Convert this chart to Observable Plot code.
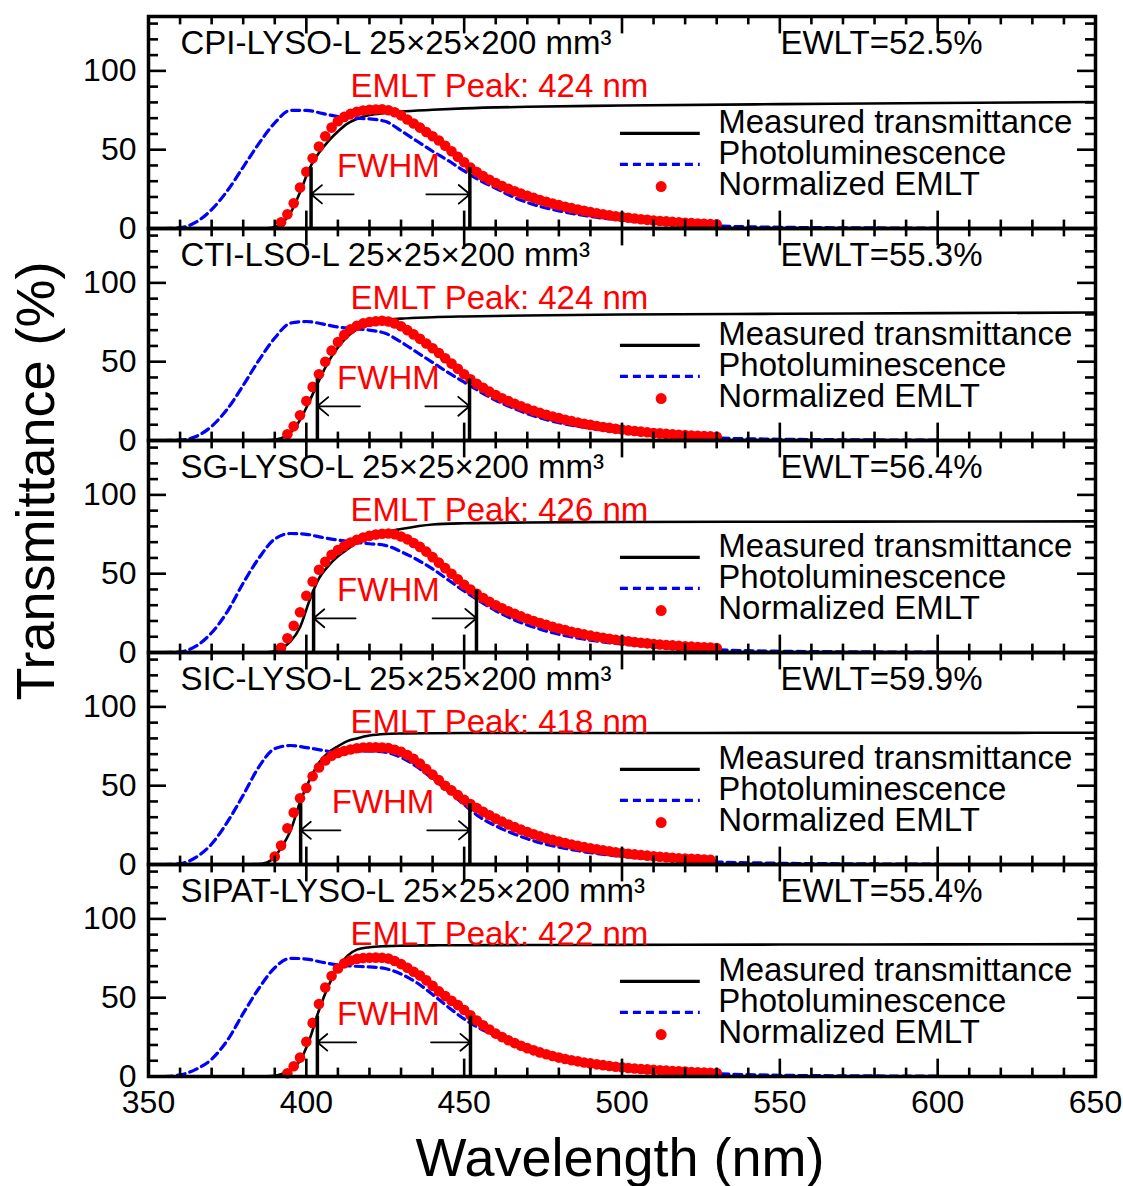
<!DOCTYPE html>
<html><head><meta charset="utf-8">
<script src="https://cdn.jsdelivr.net/npm/d3@7"></script>
<script src="https://cdn.jsdelivr.net/npm/@observablehq/plot@0.6"></script>
<style>
body{margin:0;background:#fff;}
#wrap{position:relative;width:1123px;height:1186px;font-family:"Liberation Sans",Arial,sans-serif;color:#000;}
.ttl{position:absolute;line-height:1;white-space:nowrap;font-size:54px;}
</style></head><body><div id="wrap"></div>
<script>
// ---------------- DATA ----------------
const panelNames = ["CPI", "CTI", "SG", "SIC", "SIPAT"];
const titles = ["CPI-LYSO-L 25×25×200 mm³", "CTI-LSO-L 25×25×200 mm³", "SG-LYSO-L 25×25×200 mm³", "SIC-LYSO-L 25×25×200 mm³", "SIPAT-LYSO-L 25×25×200 mm³"];
const ewltLabels = ["EWLT=52.5%", "EWLT=55.3%", "EWLT=56.4%", "EWLT=59.9%", "EWLT=55.4%"];
const peakNm = [424, 424, 426, 418, 422];

const plWavelength = [355,360,365,370,375,380,385,390,395,400,405,410,415,420,425,430,435,440,445,450,455,460,465,470,475,480,490,500,510,520,530,550,575,600];
const plCPI   = [0,0.5,4,12,24,39,54,67,75,75,73,71,70,69.5,68,62,55.5,49,43,36.5,30.5,25.5,20.5,16.5,13.5,11.2,7.6,5.3,3.7,2.5,1.6,0.8,0.4,0.2];
const plCTI   = [0,0.3,2.5,9,20,35,51,65,74.5,75.5,74,72,71,70,68,62.5,56,49.5,43,37,31,25.5,21,17,13.8,11.3,7.7,5.3,3.7,2.5,1.6,0.8,0.4,0.2];
const plSG    = [0,0.4,4,12.5,26,44,60,72,75.5,75,73,71.3,70,69,68,64,59,53,46,39,32.5,26.5,21.5,17.5,14.2,11.6,7.8,5.4,3.8,2.6,1.7,0.8,0.4,0.2];
const plSIC   = [0,0.5,4.5,13,27,44,62,73.5,75.5,74.2,72.5,71.1,71.8,72,71.2,68,62,54.5,46.5,38,30,24.5,20,16.3,13.3,11,7.5,5.2,3.6,2.4,1.6,0.8,0.4,0.2];
const plSIPAT = [0,1,4.5,11,23,40,56,69,75,74.5,72.5,70.8,70,69.5,68.5,65,59.5,52,44,36.5,30.5,26,22,18.5,15.5,12.8,8.5,5.7,3.9,2.6,1.7,0.8,0.4,0.2];

const tWavelength = [350,380,386,389,392,395,398,401,404,407,410,413,416,420,425,430,440,450,470,500,550,600,650];
const tCPI   = [0,0,0,0.5,3,10,23,38,48,55.5,61.5,66.5,69.5,72,73.3,74.2,75.3,76.2,77.2,78,78.9,79.6,80.3];
const tCTI   = [0,0,0,0.3,1.5,5,13,25,38,50,59,66,70.5,74,76.3,77.3,78.2,78.7,79.3,79.9,80.4,80.8,81.2];
const tSG    = [0,0,0,0.5,2.5,7,16,33,47,55,61,65.5,69.5,73,76.3,78.3,81.2,82,82.5,82.8,83,83.1,83.2];
const tSIC   = [0,0,0.5,3,10.5,21.5,39.5,53.5,64.5,71,75,78.3,80,81.8,82.8,83.1,83.3,83.4,83.4,83.4,83.5,83.5,83.6];
const tSIPAT = [0,0,0,0.3,1.5,4,10,23.5,42,57.5,69,76.5,80.5,82,82.7,83,83.2,83.3,83.4,83.5,83.7,83.8,84];

const emltWavelength = [388,390,392,394,396,398,400,402,404,406,
  408,410,412,414,416,418,420,422,424,426,
  428,430,432,434,436,438,440,442,444,446,
  448,450,452,454,456,458,460,462,464,466,
  468,470,472,474,476,478,480,482,484,486,
  488,490,492,494,496,498,500,502,504,506,
  508,510,512,514,516,518,520,522,524,526,
  528,530];
const emltCPI = [null,null,4,9,16,26,36,44.5,52,58.5,
  64,68,70.8,72.7,74,74.9,75.3,75.5,75.6,75,
  73.8,71.8,69.2,66.6,64,61.2,58.5,55.8,52.5,49,
  45.5,42,38.6,35.8,33.2,30.9,28.8,26.9,25.2,23.6,
  22.1,20.7,19.4,18.1,16.9,15.8,14.8,13.8,12.9,12,
  11.2,10.4,9.7,9.0,8.4,7.8,7.3,6.8,6.3,5.9,
  5.5,5.1,4.8,4.5,4.2,3.9,3.6,3.4,3.2,3.0,
  2.8,2.6];
const emltCTI = [null,null,null,4,9,16,25,34,42,50,
  57,62.5,67,70.5,72.8,74.3,75.2,75.7,76,75.5,
  74.3,72.5,70,67.3,64.5,61.5,58.5,55.5,52.2,48.8,
  45.5,42,38.8,36,33.4,31,28.8,26.8,25,23.3,
  21.7,20.2,18.8,17.5,16.3,15.2,14.2,13.2,12.3,11.4,
  10.6,9.9,9.2,8.6,8.0,7.4,6.9,6.4,6.0,5.6,
  5.2,4.8,4.5,4.2,3.9,3.6,3.4,3.2,3.0,2.8,
  2.6,2.4];
const emltSG = [null,null,3,9,17,25.5,36,45,52.5,57.5,
  62,65,67.5,69.8,71.5,73,74,74.8,75.3,75.5,
  75,73.6,71.8,69.5,67,64,60.5,57,53.5,50,
  46.5,43,40,37.2,34.6,32.2,30,28,26.2,24.5,
  22.9,21.4,20,18.7,17.5,16.3,15.2,14.2,13.2,12.3,
  11.5,10.7,10,9.3,8.7,8.1,7.6,7.1,6.6,6.2,
  5.8,5.4,5.1,4.8,4.5,4.2,3.9,3.7,3.5,3.3,
  3.1,2.9];
const emltSIC = [null,5,12,23,33,42,48.5,56,61.5,66,
  69,70.8,72,73,73.8,74.2,74.3,74.3,74.2,73.9,
  72.8,71.5,69.5,67,64,60.5,57,53.5,50,47,
  44,41,38.4,35.8,33.4,31.2,29.1,27.2,25.4,23.7,
  22.1,20.6,19.2,17.9,16.7,15.6,14.6,13.6,12.7,11.8,
  11,10.3,9.6,9,8.4,7.8,7.3,6.8,6.4,6,
  5.6,5.2,4.9,4.6,4.3,4,3.8,3.6,3.4,3.2,
  3.0,null];
const emltSIPAT = [null,null,null,2,6.5,12,22,34,46,56.5,
  63.8,68.5,71.8,73.6,74.6,75.1,75.3,75.4,75.3,74.8,
  73.3,71.3,69,66.5,64,61,57.5,54,51,48,
  45.3,42.2,38.8,35.5,32.5,29.8,27.2,25,23,21.2,
  19.5,18,16.6,15.3,14.1,13,12,11.1,10.3,9.6,
  8.9,8.3,7.7,7.2,6.7,6.2,5.8,5.4,5.1,4.8,
  4.5,4.2,3.9,3.7,3.5,3.3,3.1,2.9,2.7,2.5,
  2.4,2.2];

// FWHM markers (nm, %)
const fwhmLeft   = [401.5, 403.5, 402.3, 398.2, 403.5];
const fwhmRight  = [451.8, 451.7, 453.9, 451.8, 452.0];
const fwhmHeight = [38.6, 39.0, 39.6, 38.6, 38.2];
const arrowLeftEnd    = [415.0, 417.0, 415.6, 410.8, 415.8];
const arrowRightStart = [438.0, 437.7, 440.0, 438.3, 439.5];

const legendLabels = ["Measured transmittance", "Photoluminescence", "Normalized EMLT"];

const xTicksMajor = [350,400,450,500,550,600,650];
const xTicksMinor = [360,370,380,390,410,420,430,440,460,470,480,490,510,520,530,540,560,570,580,590,610,620,630,640];
const yTicksMajor = [0,50,100];
const yTicksMinor = [10,20,30,40,60,70,80,90,110,120,130];

// ---------------- BUILD ----------------
const plAll = [plCPI, plCTI, plSG, plSIC, plSIPAT];
const tAll = [tCPI, tCTI, tSG, tSIC, tSIPAT];
const emltAll = [emltCPI, emltCTI, emltSG, emltSIC, emltSIPAT];

const toRows = (wls, vals, panel) => wls.map((wl, i) => ({panel, wl, v: vals[i]})).filter(d => d.v != null);
const plRows = panelNames.flatMap((p, i) => toRows(plWavelength, plAll[i], p));
const tRows = panelNames.flatMap((p, i) => toRows(tWavelength, tAll[i], p));
const emltRows = panelNames.flatMap((p, i) => toRows(emltWavelength, emltAll[i], p));
const panelRows = panelNames.map((p, i) => ({
  panel: p, title: titles[i], ewlt: ewltLabels[i], peak: `EMLT Peak: ${peakNm[i]} nm`,
  left: fwhmLeft[i], right: fwhmRight[i], h: fwhmHeight[i],
  le: arrowLeftEnd[i], rs: arrowRightStart[i]
}));

const W = 1123, H = 1186;
const M = {top: 14, right: 28, bottom: 109, left: 148};
const innerW = W - M.left - M.right;
const facetH = (H - M.top - M.bottom) / panelNames.length;
const FONT = "'Liberation Sans', Arial, sans-serif";
const BLUE = "#0000ff", RED = "#ff0000";
const DASH = "8,5";
const FS = 33;

// layout constants (in data units)
const TEXT_Y = 117.2, PEAK_Y = 90.3, FWHM_Y = 39.6, ARROW_Y = 21.7;
const legTextY = [67.5, 47.6, 28.0];
const legLineY = [60.3, 40.7];
const LEG_X1 = 499.5, LEG_X2 = 524.8, LEG_DOT_X = 512.4, LEG_DOT_Y = 26.6, LEG_TEXT_X = 530.5;

const chart = Plot.plot({
  width: W, height: H,
  marginTop: M.top, marginRight: M.right, marginBottom: M.bottom, marginLeft: M.left,
  x: {domain: [350, 650]},
  y: {domain: [0, 134.5]},
  fy: {domain: panelNames, padding: 0, axis: null},
  style: {fontFamily: FONT, background: "white", color: "black"},
  marks: [
    // curves
    Plot.line(tRows, {fy: "panel", x: "wl", y: "v", stroke: "black", strokeWidth: 2.6, curve: "monotone-x"}),
    Plot.line(plRows, {fy: "panel", x: "wl", y: "v", stroke: BLUE, strokeWidth: 3.2, strokeDasharray: DASH, curve: "monotone-x"}),
    Plot.dot(emltRows, {fy: "panel", x: "wl", y: "v", r: 5.3, fill: RED, stroke: "none"}),
    // FWHM markers
    Plot.ruleX(panelRows, {fy: "panel", x: "left", y1: () => 0, y2: "h", stroke: "black", strokeWidth: 3.5}),
    Plot.ruleX(panelRows, {fy: "panel", x: "right", y1: () => 0, y2: "h", stroke: "black", strokeWidth: 3.5}),
    Plot.arrow(panelRows, {fy: "panel", x1: "le", x2: "left", y1: () => ARROW_Y, y2: () => ARROW_Y, stroke: "black", strokeWidth: 1.8, headLength: 15, headAngle: 80}),
    Plot.arrow(panelRows, {fy: "panel", x1: "rs", x2: "right", y1: () => ARROW_Y, y2: () => ARROW_Y, stroke: "black", strokeWidth: 1.8, headLength: 15, headAngle: 80}),
    Plot.text(panelRows, {fy: "panel", x: (d) => d.panel === "SIC" ? 424.3 : 426, y: () => FWHM_Y, text: () => "FWHM", fill: RED, fontSize: FS, textAnchor: "middle", lineAnchor: "middle"}),
    // panel texts
    Plot.text(panelRows, {fy: "panel", x: () => 360.1, y: () => TEXT_Y, text: "title", fill: "black", fontSize: FS, textAnchor: "start", lineAnchor: "middle"}),
    Plot.text(panelRows, {fy: "panel", x: () => 550.2, y: () => TEXT_Y, text: "ewlt", fill: "black", fontSize: FS, textAnchor: "start", lineAnchor: "middle"}),
    Plot.text(panelRows, {fy: "panel", x: () => 414, y: () => PEAK_Y, text: "peak", fill: RED, fontSize: FS, textAnchor: "start", lineAnchor: "middle"}),
    // legend (repeated in each panel)
    Plot.ruleY([legLineY[0]], {y: (d) => d, x1: () => LEG_X1, x2: () => LEG_X2, stroke: "black", strokeWidth: 3.2}),
    Plot.ruleY([legLineY[1]], {y: (d) => d, x1: () => LEG_X1, x2: () => LEG_X2, stroke: BLUE, strokeWidth: 3.2, strokeDasharray: DASH}),
    Plot.dot([LEG_DOT_Y], {x: () => LEG_DOT_X, y: (d) => d, r: 5.5, fill: RED, stroke: "none"}),
    Plot.text(legendLabels, {x: () => LEG_TEXT_X, y: (d, i) => legTextY[i], text: (d) => d, fill: "black", fontSize: FS, textAnchor: "start", lineAnchor: "middle"}),
    // inward ticks
    Plot.tickX(xTicksMajor, {x: (d) => d, insetTop: facetH - 18, stroke: "black", strokeWidth: 2.6}),
    Plot.tickX(xTicksMinor, {x: (d) => d, insetTop: facetH - 9, stroke: "black", strokeWidth: 2.6}),
    Plot.tickX(xTicksMajor, {x: (d) => d, insetBottom: facetH - 18, stroke: "black", strokeWidth: 2.6}),
    Plot.tickX(xTicksMinor, {x: (d) => d, insetBottom: facetH - 9, stroke: "black", strokeWidth: 2.6}),
    Plot.tickY(yTicksMajor, {y: (d) => d, insetRight: innerW - 18, stroke: "black", strokeWidth: 2.6}),
    Plot.tickY(yTicksMinor, {y: (d) => d, insetRight: innerW - 10, stroke: "black", strokeWidth: 2.6}),
    Plot.tickY(yTicksMajor, {y: (d) => d, insetLeft: innerW - 18, stroke: "black", strokeWidth: 2.6}),
    Plot.tickY(yTicksMinor, {y: (d) => d, insetLeft: innerW - 10, stroke: "black", strokeWidth: 2.6}),
    Plot.frame({stroke: "black", strokeWidth: 3.5}),
    // axes labels
    Plot.axisX({ticks: xTicksMajor, tickSize: 0, tickPadding: 14, fontSize: 32, tickFormat: (d) => String(d), label: null, anchor: "bottom"}),
    Plot.axisY({ticks: yTicksMajor, tickSize: 0, tickPadding: 12, fontSize: 32, tickFormat: (d) => String(d), label: null, anchor: "left"})
  ]
});

const wrap = document.getElementById("wrap");
wrap.appendChild(chart);

const yTitle = document.createElement("div");
yTitle.className = "ttl";
yTitle.textContent = "Transmittance (%)";
yTitle.style.left = "35px"; yTitle.style.top = "481px";
yTitle.style.transform = "translate(-50%,-50%) rotate(-90deg)";
wrap.appendChild(yTitle);

const xTitle = document.createElement("div");
xTitle.className = "ttl";
xTitle.textContent = "Wavelength (nm)";
xTitle.style.left = "620px"; xTitle.style.top = "1157px";
xTitle.style.transform = "translate(-50%,-50%)";
wrap.appendChild(xTitle);
</script>
</body></html>
